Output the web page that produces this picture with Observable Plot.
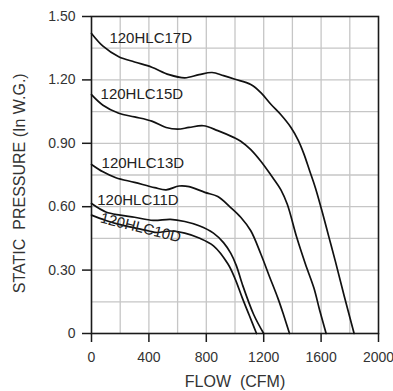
<!DOCTYPE html>
<html>
<head>
<meta charset="utf-8">
<script src="https://cdn.jsdelivr.net/npm/d3@7"></script>
<script src="https://cdn.jsdelivr.net/npm/@observablehq/plot@0.6"></script>
<style>
  html, body { margin: 0; padding: 0; background: #fff; }
  #chart svg { display: block; }
</style>
</head>
<body>
<div id="chart"></div>
<script>
// Fan curves: flow (CFM) vs static pressure (In W.G.)
const flow17 = [0, 80, 190, 300, 420, 540, 650, 750, 840, 920, 1000, 1110, 1180, 1250, 1320, 1390, 1440, 1480, 1520, 1560, 1610, 1655, 1700, 1760, 1830];
const pres17 = [1.42, 1.36, 1.31, 1.285, 1.26, 1.225, 1.21, 1.225, 1.235, 1.22, 1.203, 1.178, 1.14, 1.085, 1.035, 0.975, 0.915, 0.85, 0.77, 0.69, 0.57, 0.455, 0.34, 0.18, 0];

const flow15 = [0, 80, 190, 300, 420, 520, 600, 680, 780, 880, 990, 1040, 1110, 1180, 1250, 1320, 1365, 1430, 1490, 1550, 1590, 1635];
const pres15 = [1.13, 1.08, 1.042, 1.025, 1.005, 0.975, 0.967, 0.975, 0.983, 0.96, 0.928, 0.91, 0.87, 0.815, 0.75, 0.68, 0.61, 0.455, 0.33, 0.215, 0.11, 0];

const flow13 = [0, 80, 170, 300, 440, 520, 610, 680, 790, 880, 970, 1040, 1110, 1180, 1240, 1300, 1340, 1380];
const pres13 = [0.80, 0.765, 0.737, 0.715, 0.69, 0.68, 0.698, 0.695, 0.668, 0.648, 0.596, 0.55, 0.486, 0.376, 0.27, 0.165, 0.085, 0];

const flow11 = [0, 100, 200, 300, 430, 550, 650, 750, 850, 920, 970, 1010, 1050, 1130, 1200];
const pres11 = [0.615, 0.575, 0.56, 0.55, 0.535, 0.54, 0.53, 0.51, 0.475, 0.43, 0.38, 0.32, 0.235, 0.09, 0];

const flow10 = [0, 100, 200, 300, 400, 460, 550, 650, 750, 850, 950, 1000, 1050, 1100, 1150];
const pres10 = [0.56, 0.535, 0.515, 0.50, 0.485, 0.478, 0.485, 0.475, 0.452, 0.415, 0.33, 0.26, 0.17, 0.085, 0];

const seriesNames = ["120HLC17D", "120HLC15D", "120HLC13D", "120HLC11D", "120HLC10D"];
const labelFlow = [125, 63, 70, 40, 63];
const labelPres = [1.397, 1.131, 0.807, 0.630, 0.548];
const labelRotate = [0, 0, 0, 0, 14];

const xTicks = [0, 400, 800, 1200, 1600, 2000];
const yTicks = [0, 0.30, 0.60, 0.90, 1.20, 1.50];
const xGrid = [200, 400, 600, 800, 1000, 1200, 1400, 1600, 1800];
const yGrid = [0.15, 0.30, 0.45, 0.60, 0.75, 0.90, 1.05, 1.20, 1.35];

const xLabel = "FLOW  (CFM)";
const yLabel = "STATIC  PRESSURE (In W.G.)";

const flows = [flow17, flow15, flow13, flow11, flow10];
const press = [pres17, pres15, pres13, pres11, pres10];
const rows = [];
seriesNames.forEach((name, i) => {
  flows[i].forEach((f, j) => rows.push({series: name, flow: f, pressure: press[i][j]}));
});
const labels = seriesNames.map((name, i) => ({name, flow: labelFlow[i], pressure: labelPres[i], rotate: labelRotate[i]}));

const font = "'Liberation Sans', Arial, Helvetica, sans-serif";
const ink = "#1a1a1a";

const chart = Plot.plot({
  width: 393,
  height: 391,
  marginLeft: 91,
  marginRight: 15,
  marginTop: 16,
  marginBottom: 58,
  style: {fontFamily: font, background: "#fff"},
  x: {domain: [0, 2000]},
  y: {domain: [0, 1.5]},
  marks: [
    Plot.gridX(xGrid, {stroke: "#c6c6c6", strokeOpacity: 1, strokeWidth: 1.3}),
    Plot.gridY(yGrid, {stroke: "#c6c6c6", strokeOpacity: 1, strokeWidth: 1.3}),
    Plot.axisX({ticks: xTicks, tickSize: 9, tickPadding: 10, stroke: ink, strokeWidth: 1.5, fill: "#333", fontSize: 14, label: null,
      tickFormat: d => String(d)}),
    Plot.axisY({ticks: yTicks, tickSize: 9, tickPadding: 7, stroke: ink, strokeWidth: 1.5, fill: "#333", fontSize: 14, label: null,
      tickFormat: d => d === 0 ? "0" : d.toFixed(2)}),
    Plot.frame({stroke: ink, strokeWidth: 1.6}),
    Plot.line(rows, {x: "flow", y: "pressure", z: "series", stroke: "#111", strokeWidth: 1.7, curve: "catmull-rom"}),
    Plot.text(labels, {x: "flow", y: "pressure", text: "name", rotate: "rotate", textAnchor: "start", lineAnchor: "middle", fontSize: 15, fill: "#222"}),
    Plot.text([xLabel], {frameAnchor: "bottom", dy: 48, lineAnchor: "middle", fontSize: 16, fill: "#333"}),
    Plot.text([yLabel], {x: () => -502, y: () => 0.711, rotate: -90, textAnchor: "middle", lineAnchor: "middle", fontSize: 16, fill: "#333"})
  ]
});
document.getElementById("chart").appendChild(chart);
</script>
</body>
</html>
